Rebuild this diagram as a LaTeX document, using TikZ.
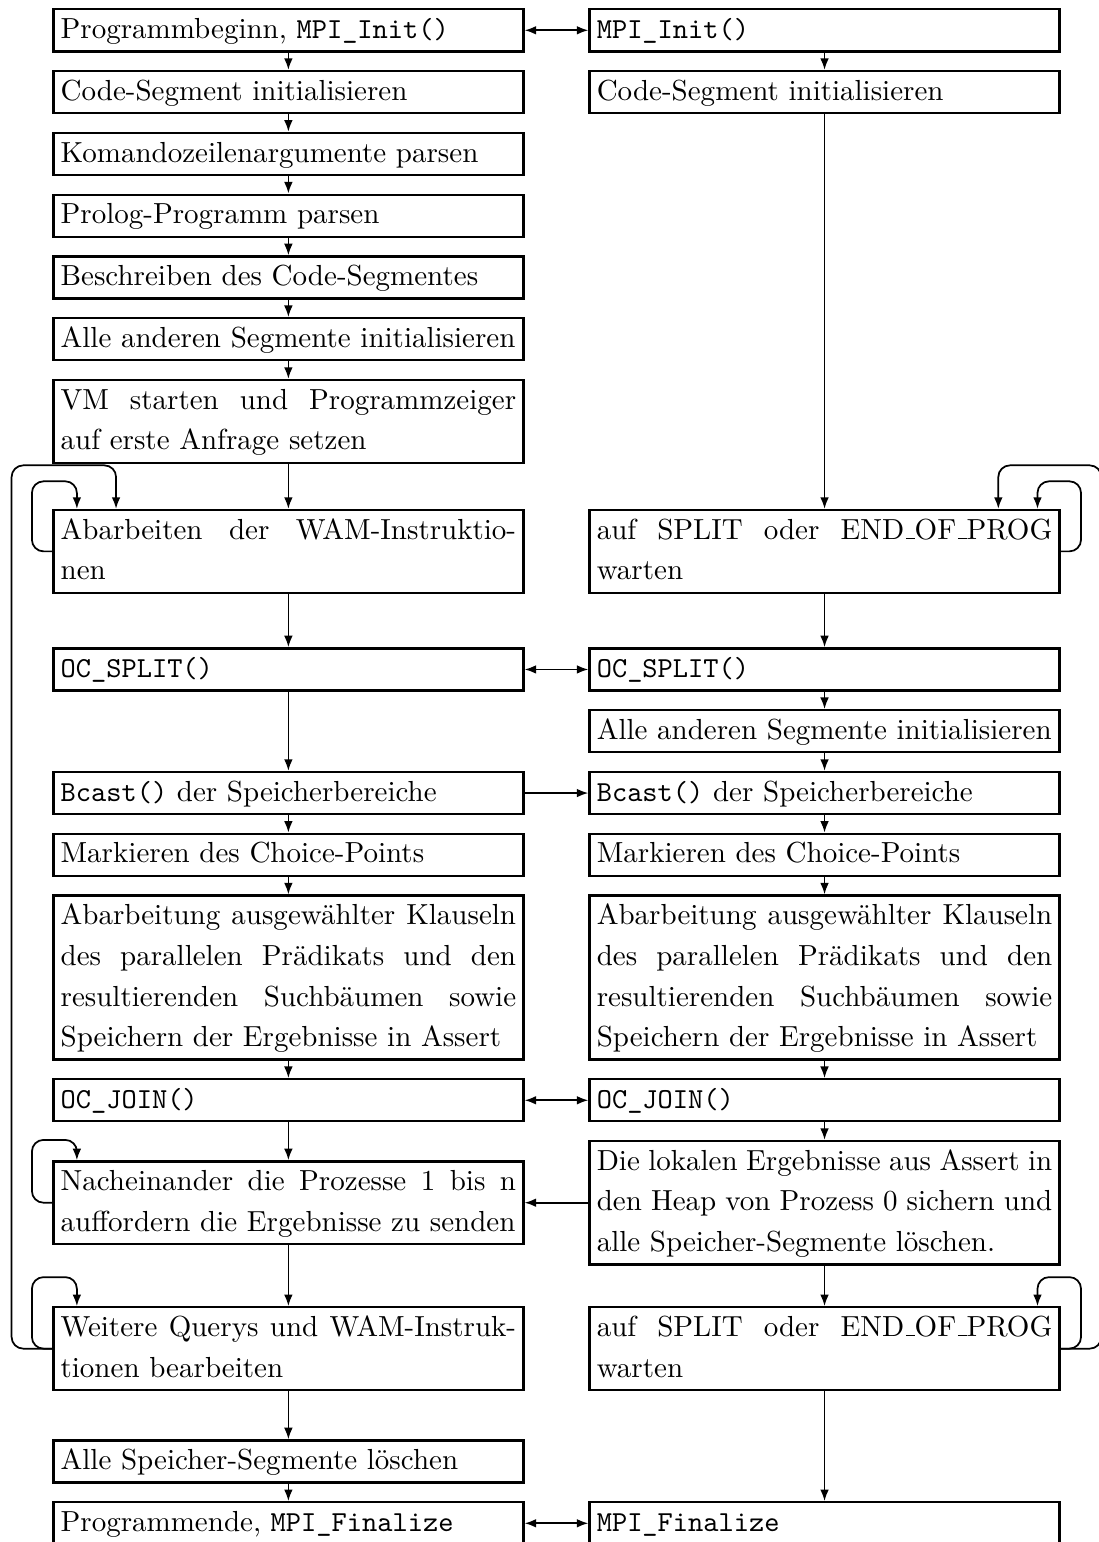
\documentclass[tikz,border=0pt]{standalone}
\usetikzlibrary{arrows.meta, positioning}
\newcommand*{\rmus}{\leavevmode\kern.06em\vbox{\hrule width.3em}}

\begin{document}
\begin{tikzpicture}[
        font=\fontsize{10pt}{14pt}\selectfont,
        >={Latex[length=4pt,width=3pt]},
        box/.style={draw, thick, align=justify, text width=157pt, inner xsep=2.5pt, inner ysep=0.25pt,
            execute at begin node=\strut, execute at end node=\strut},
        arrow/.style={->, semithick},
        both/.style={<->, semithick},
        back/.style={->, semithick, rounded corners=4pt}
    ]
    \useasboundingbox (0,0) rectangle (378.6pt,-531.5pt);

    \node[box, anchor=north west] (init) at (18pt,-2.8pt) {Programmbeginn, \texttt{MPI\_Init()}};
    \node[box, below=6pt of init] (codeseg) {Code-Segment initialisieren};
    \node[box, below=6pt of codeseg] (cmdline) {Komandozeilenargumente parsen};
    \node[box, below=6pt of cmdline] (parse) {Prolog-Programm parsen};
    \node[box, below=6pt of parse] (codewrite) {Beschreiben des Code-Segmentes};
    \node[box, below=6pt of codewrite] (segs) {Alle anderen Segmente initialisieren};
    \node[box, below=6pt of segs] (vmstart) {VM starten und Programmzeiger\linebreak auf erste Anfrage setzen};
    \node[box, below=15.5pt of vmstart] (wam) {Abarbeiten der WAM-Instruktio-\linebreak nen};
    \node[box, below=18.4pt of wam] (split) {\texttt{OC\_SPLIT()}};

    \node[box, right=22pt of init] (rinit) {\texttt{MPI\_Init()}};
    \node[box, right=22pt of codeseg] (rcodeseg) {Code-Segment initialisieren};
    \node[box, right=22pt of wam] (rwait) {auf SPLIT oder END\rmus OF\rmus PROG\linebreak warten};
    \node[box, right=22pt of split] (rsplit) {\texttt{OC\_SPLIT()}};
    \node[box, below=6pt of rsplit] (rsegs) {Alle anderen Segmente initialisieren};
    \node[box, below=6pt of rsegs] (rbcast) {\texttt{Bcast()} der Speicherbereiche};

    \node[box, left=22pt of rbcast] (bcast) {\texttt{Bcast()} der Speicherbereiche};
    \node[box, below=6pt of bcast] (choice) {Markieren des Choice-Points};
    \node[box, below=6pt of choice] (work) {Abarbeitung ausgewählter Klauseln\linebreak
        des parallelen Prädikats und den\linebreak resultierenden Suchbäumen sowie\linebreak
        Speichern der Ergebnisse in Assert};
    \node[box, below=6pt of work] (join) {\texttt{OC\_JOIN()}};

    \node[box, right=22pt of choice] (rchoice) {Markieren des Choice-Points};
    \node[box, right=22pt of work] (rwork) {Abarbeitung ausgewählter Klauseln\linebreak
        des parallelen Prädikats und den\linebreak resultierenden Suchbäumen sowie\linebreak
        Speichern der Ergebnisse in Assert};
    \node[box, right=22pt of join] (rjoin) {\texttt{OC\_JOIN()}};
    \node[box, below=6pt of rjoin] (rsave) {Die lokalen Ergebnisse aus Assert in\linebreak
        den Heap von Prozess 0 sichern und\linebreak alle Speicher-Segmente löschen.};
    \node[box, below=14pt of rsave] (rwait2) {auf SPLIT oder END\rmus OF\rmus PROG\linebreak warten};

    \node[box, left=22pt of rsave] (collect) {Nacheinander die Prozesse 1 bis n\linebreak auffordern die Ergebnisse zu senden};
    \node[box, left=22pt of rwait2] (more) {Weitere Querys und WAM-Instruk-\linebreak tionen bearbeiten};
    \node[box, below=16.6pt of more] (cleanup) {Alle Speicher-Segmente löschen};
    \node[box, below=6pt of cleanup] (finish) {Programmende, \texttt{MPI\_Finalize}};
    \node[box, right=22pt of finish] (rfinish) {\texttt{MPI\_Finalize}};

    \draw[arrow] (init) -- (codeseg);
    \draw[arrow] (codeseg) -- (cmdline);
    \draw[arrow] (cmdline) -- (parse);
    \draw[arrow] (parse) -- (codewrite);
    \draw[arrow] (codewrite) -- (segs);
    \draw[arrow] (segs) -- (vmstart);
    \draw[arrow] (vmstart) -- (wam);
    \draw[arrow] (wam) -- (split);
    \draw[arrow] (split) -- (bcast);
    \draw[arrow] (bcast) -- (choice);
    \draw[arrow] (choice) -- (work);
    \draw[arrow] (work) -- (join);
    \draw[arrow] (join) -- (collect);
    \draw[arrow] (collect) -- (more);
    \draw[arrow] (more) -- (cleanup);
    \draw[arrow] (cleanup) -- (finish);

    \draw[arrow] (rinit) -- (rcodeseg);
    \draw[arrow] (rcodeseg) -- (rwait);
    \draw[arrow] (rwait) -- (rsplit);
    \draw[arrow] (rsplit) -- (rsegs);
    \draw[arrow] (rsegs) -- (rbcast);
    \draw[arrow] (rbcast) -- (rchoice);
    \draw[arrow] (rchoice) -- (rwork);
    \draw[arrow] (rwork) -- (rjoin);
    \draw[arrow] (rjoin) -- (rsave);
    \draw[arrow] (rsave) -- (rwait2);
    \draw[arrow] (rwait2) -- (rfinish);

    \draw[both] (init) -- (rinit);
    \draw[both] (split) -- (rsplit);
    \draw[arrow] (bcast) -- (rbcast);
    \draw[both] (join) -- (rjoin);
    \draw[arrow] (rsave) -- (collect);
    \draw[both] (finish) -- (rfinish);

    \draw[back] (wam.west) -| ([shift={(-7pt,9.5pt)}]wam.north west) -| ([xshift=8.5pt]wam.north west);
    \draw[back] (more.west) -| ([shift={(-14pt,15pt)}]wam.north west) -| ([xshift=22pt]wam.north west);
    \draw[back] (collect.west) -| ([shift={(-7pt,7pt)}]collect.north west) -| ([xshift=8.5pt]collect.north west);
    \draw[back] (more.west) -| ([shift={(-7pt,10pt)}]more.north west) -| ([xshift=8.5pt]more.north west);
    \draw[back] (rwait.east) -| ([shift={(7pt,9.5pt)}]rwait.north east) -| ([xshift=-8pt]rwait.north east);
    \draw[back] (rwait2.east) -| ([shift={(14pt,15pt)}]rwait.north east) -| ([xshift=-21.5pt]rwait.north east);
    \draw[back] (rwait2.east) -| ([shift={(7pt,10pt)}]rwait2.north east) -| ([xshift=-8pt]rwait2.north east);
\end{tikzpicture}
\end{document}
